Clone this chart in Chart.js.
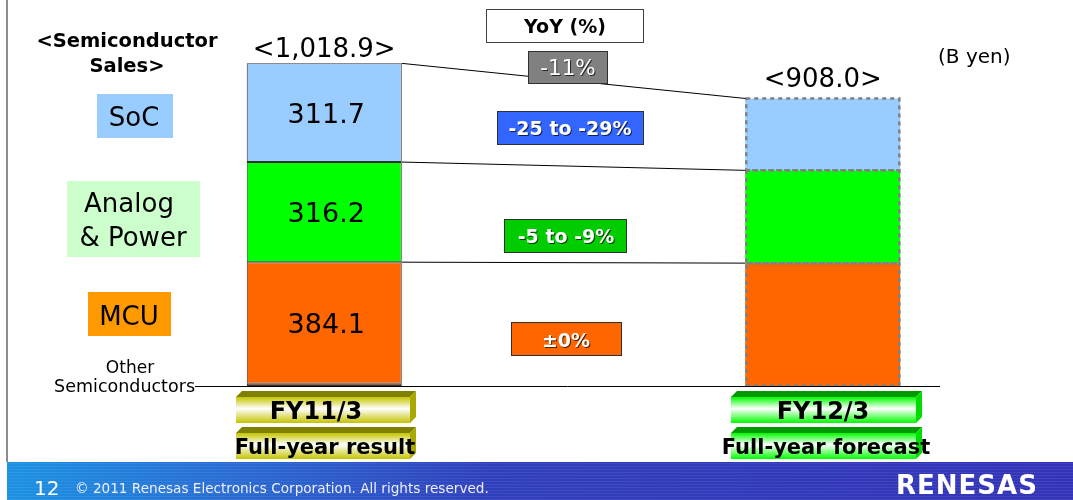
<!DOCTYPE html>
<html lang="en">
<head>
  <meta charset="UTF-8">
  <title>Semiconductor Sales</title>
  <script src="https://cdn.jsdelivr.net/npm/chart.js"></script>
  <style>
    html, body {
      margin: 0;
      padding: 0;
      background: #ffffff;
      overflow: hidden;
    }
    .wrap {
      position: relative;
      width: 1073px;
      height: 500px;
    }
  </style>
</head>
<body>
<div class="wrap">
  <canvas id="chart1"></canvas>
</div>

<script>
  // B yen (FY12/3 split)
  const periods = ['FY11/3', 'FY12/3'];
  const periodNotes = ['Full-year result', 'Full-year forecast'];
  const totalLabels = ['<1,018.9>', '<908.0>'];
  const otherSales  = [6.9, 3.0];
  const mcuSales    = [384.1, 385.0];
  const analogSales = [316.2, 293.0];
  const socSales    = [311.7, 227.0];
  const yoyTotal  = '-11%';
  const yoySoc    = '-25 to -29%';
  const yoyAnalog = '-5 to -9%';
  const yoyMcu    = '±0%';

  const FONT = '"DejaVu Sans", Verdana, sans-serif';

  function txt(ctx, s, x, y, size, opts) {
    opts = opts || {};
    ctx.save();
    ctx.font = (opts.bold ? 'bold ' : '') + size + 'px ' + FONT;
    ctx.fillStyle = opts.color || '#000';
    ctx.textAlign = opts.align || 'center';
    ctx.textBaseline = 'alphabetic';
    if (opts.shadow) {
      ctx.shadowColor = 'rgba(0,0,0,0.7)';
      ctx.shadowOffsetX = 1;
      ctx.shadowOffsetY = 1;
    }
    if (opts.spacing) ctx.letterSpacing = opts.spacing + 'px';
    ctx.fillText(s, x, y);
    ctx.restore();
  }

  function rect(ctx, x1, y1, x2, y2, fill, stroke) {
    ctx.save();
    if (fill) { ctx.fillStyle = fill; ctx.fillRect(x1, y1, x2 - x1, y2 - y1); }
    if (stroke) {
      ctx.strokeStyle = stroke;
      ctx.lineWidth = 1;
      ctx.strokeRect(x1 + 0.5, y1 + 0.5, x2 - x1 - 1, y2 - y1 - 1);
    }
    ctx.restore();
  }

  // bevelled label plate under each bar
  function plate(ctx, x1, x2, y1, y2, dark, side, edge) {
    const d = 6;
    ctx.save();
    ctx.fillStyle = dark;
    ctx.beginPath();
    ctx.moveTo(x1, y1 + d); ctx.lineTo(x1 + d, y1); ctx.lineTo(x2 + d, y1); ctx.lineTo(x2, y1 + d);
    ctx.closePath(); ctx.fill();
    ctx.fillStyle = side;
    ctx.beginPath();
    ctx.moveTo(x2, y1 + d); ctx.lineTo(x2 + d, y1); ctx.lineTo(x2 + d, y2 - d); ctx.lineTo(x2, y2);
    ctx.closePath(); ctx.fill();
    const g = ctx.createLinearGradient(0, y1 + d, 0, y2);
    g.addColorStop(0, edge);
    g.addColorStop(0.45, '#ffffff');
    g.addColorStop(1, edge);
    ctx.fillStyle = g;
    ctx.fillRect(x1, y1 + d, x2 - x1, y2 - y1 - d);
    ctx.restore();
  }

  const slidePlugin = {
    id: 'slide',
    beforeDraw(chart) {
      const ctx = chart.ctx;
      ctx.save();
      ctx.fillStyle = '#ffffff';
      ctx.fillRect(0, 0, chart.width, chart.height);
      // left frame line
      ctx.fillStyle = '#8c8c8c';
      ctx.fillRect(6, 0, 2, 462);
      // footer band
      const g = ctx.createLinearGradient(7, 0, 1073, 0);
      g.addColorStop(0, '#1c92e2');
      g.addColorStop(0.22, '#2a6ad2');
      g.addColorStop(0.45, '#3040bc');
      g.addColorStop(1, '#3434b8');
      ctx.fillStyle = g;
      ctx.fillRect(7, 462, 1066, 38);
      ctx.fillStyle = 'rgba(255,255,255,0.07)';
      for (let y = 463; y < 500; y += 3) ctx.fillRect(7, y, 1066, 1);
      ctx.restore();
    },
    afterDatasetsDraw(chart) {
      const ctx = chart.ctx;
      const metas = [1, 2, 3].map(i => chart.getDatasetMeta(i)); // mcu, analog, soc
      const L = metas.map(m => m.data[0]);
      const R = metas.map(m => m.data[1]);
      const lx = L[0].x + L[0].width / 2;
      const rx = R[0].x - R[0].width / 2;

      // dashed outline on the forecast bar
      ctx.save();
      ctx.strokeStyle = '#808080';
      ctx.lineWidth = 2.5;
      ctx.setLineDash([4, 4]);
      R.forEach(b => {
        ctx.strokeRect(b.x - b.width / 2 + 1, b.y, b.width - 2, b.base - b.y);
      });
      ctx.restore();

      // connectors between the bars
      ctx.save();
      ctx.strokeStyle = '#000';
      ctx.lineWidth = 1;
      for (let i = 0; i < 3; i++) {
        ctx.beginPath();
        ctx.moveTo(lx, L[i].y);
        ctx.lineTo(rx, R[i].y);
        ctx.stroke();
      }
      // baseline from "Other Semiconductors"
      const by = chart.scales.y.getPixelForValue(0);
      ctx.beginPath();
      ctx.moveTo(195, by + 0.5);
      ctx.lineTo(940, by + 0.5);
      ctx.stroke();
      ctx.restore();

      // values inside the FY11/3 bar
      const vals = [mcuSales[0], analogSales[0], socSales[0]];
      L.forEach((b, i) => {
        txt(ctx, vals[i].toFixed(1), b.x + 2, (b.y + b.base) / 2 + 10, 27);
      });

      // totals on top
      txt(ctx, totalLabels[0], L[2].x, L[2].y - 6, 26);
      txt(ctx, totalLabels[1], R[2].x, R[2].y - 11, 26);
      txt(ctx, '(B yen)', 938, 63, 20, { align: 'left' });

      // left hand legend
      txt(ctx, '<Semiconductor', 127, 47, 19.5, { bold: true });
      txt(ctx, 'Sales>', 127, 72, 19.5, { bold: true });
      rect(ctx, 97, 94, 173, 138, '#99ccff');
      txt(ctx, 'SoC', 134, 126, 26);
      rect(ctx, 67, 181, 200, 257, '#ccffcc');
      txt(ctx, 'Analog', 129, 212, 26);
      txt(ctx, '& Power', 133, 246, 26);
      rect(ctx, 88, 292, 171, 336, '#ff9900');
      txt(ctx, 'MCU', 129, 325, 26);
      txt(ctx, 'Other', 130, 373, 17);
      txt(ctx, 'Semiconductors', 195, 392, 17.5, { align: 'right' });

      // YoY boxes
      rect(ctx, 486, 9, 644, 43, '#ffffff', '#404040');
      txt(ctx, 'YoY (%)', 565, 33, 19, { bold: true });
      rect(ctx, 528, 51, 608, 84, '#808080', '#303030');
      txt(ctx, yoyTotal, 568, 75, 21.5, { color: '#fff', shadow: true });
      rect(ctx, 497, 111, 644, 145, '#3366ff', '#303030');
      txt(ctx, yoySoc, 570, 135, 19, { bold: true, color: '#fff', shadow: true });
      rect(ctx, 504, 219, 627, 253, '#00cc00', '#303030');
      txt(ctx, yoyAnalog, 566, 243, 19, { bold: true, color: '#fff', shadow: true });
      rect(ctx, 511, 322, 622, 356, '#ff6600', '#303030');
      txt(ctx, yoyMcu, 566, 347, 19, { bold: true, color: '#fff', shadow: true });

      // period plates
      plate(ctx, 236, 410, 391, 423, '#808000', '#a8a800', '#c4c400');
      plate(ctx, 236, 410, 427, 459, '#808000', '#a8a800', '#c4c400');
      txt(ctx, periods[0], 316, 419, 24, { bold: true });
      txt(ctx, periodNotes[0], 325, 454, 21, { bold: true });
      plate(ctx, 731, 916, 391, 423, '#009900', '#00dd00', '#00ff00');
      plate(ctx, 731, 916, 427, 459, '#009900', '#00dd00', '#00ff00');
      txt(ctx, periods[1], 823, 419, 24, { bold: true });
      txt(ctx, periodNotes[1], 826, 454, 21, { bold: true });

      // footer
      txt(ctx, '12', 34, 495, 20, { align: 'left', color: '#fff' });
      txt(ctx, '© 2011 Renesas Electronics Corporation. All rights reserved.', 75, 493, 13.6,
          { align: 'left', color: '#eef' });
      txt(ctx, 'RENESAS', 967, 494, 26, { bold: true, color: '#fff', spacing: 1 });
    }
  };

  const leftBorder = c => c.dataIndex === 0 ? 1 : 0;

  new Chart(document.getElementById('chart1').getContext('2d'), {
    type: 'bar',
    data: {
      labels: periods,
      datasets: [
        { label: 'Other Semiconductors', data: otherSales, backgroundColor: '#ff6600' },
        { label: 'MCU', data: mcuSales, backgroundColor: '#ff6600' },
        { label: 'Analog & Power', data: analogSales, backgroundColor: '#00ff00' },
        { label: 'SoC', data: socSales, backgroundColor: '#99ccff' }
      ].map(d => Object.assign(d, {
        borderColor: '#303030',
        borderWidth: leftBorder,
        borderSkipped: false,
        barPercentage: 0.311,
        categoryPercentage: 1
      }))
    },
    options: {
      responsive: true,
      maintainAspectRatio: false,
      animation: false,
      layout: { padding: { left: 75, right: 1, top: 6, bottom: 114 } },
      plugins: {
        legend: { display: false },
        tooltip: { enabled: false },
        title: { display: false }
      },
      scales: {
        x: { stacked: true, display: false },
        y: { stacked: true, display: false, min: 0, max: 1200 }
      }
    },
    plugins: [slidePlugin]
  });
</script>
</body>
</html>
